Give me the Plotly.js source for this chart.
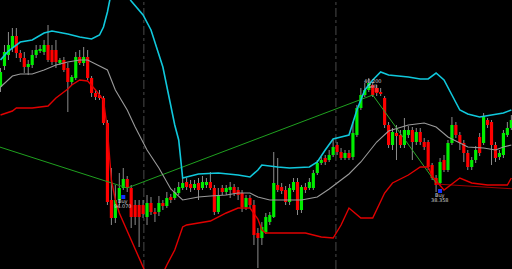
<!DOCTYPE html>
<html><head><meta charset="utf-8">
<script src="https://cdn.plot.ly/plotly-3.0.1.min.js"></script>
<style>html,body{margin:0;padding:0;background:#000;}#chart{width:512px;height:269px;}</style>
</head><body><div id="chart"></div>
<script>
// OHLC per bar (bar index = position in array)
const open  = [183,204,215,222,234,217,212,203,205,215,219,218,225,220,220,207,210,202,188,192,213,207,213,192,177,175,172,147,70,52,70,82,91,82,65,65,65,53,67,58,58,67,64,73,72,77,82,88,86,82,87,82,85,88,82,58,82,78,80,83,80,77,63,72,65,37,32,38,48,53,85,83,80,68,80,88,60,83,82,82,97,107,112,110,115,125,118,112,117,113,135,162,175,180,185,182,178,172,145,125,137,135,125,135,140,128,138,128,128,105,92,87,110,100,127,145,135,127,117,103,110,133,127,150,148,125,113,115,135,142];
const close = [198,218,225,234,217,212,203,206,215,220,221,225,210,208,208,210,200,188,193,213,207,213,192,177,173,172,147,68,52,70,82,91,82,53,53,53,56,67,58,56,67,64,72,70,78,83,87,83,82,86,80,88,88,82,58,75,78,82,83,77,75,63,72,65,35,32,43,53,55,87,80,79,68,82,88,60,83,80,88,97,107,110,108,115,123,118,112,117,112,137,162,175,180,187,175,177,176,145,125,138,134,125,140,140,128,138,128,123,103,92,85,108,100,127,145,135,127,117,103,110,120,117,153,145,125,112,117,137,142,150];
const high  = [202,225,238,242,242,220,218,210,220,225,225,230,245,225,230,212,213,207,195,218,220,223,220,194,180,180,174,150,102,85,97,102,94,85,70,70,70,75,73,62,74,70,78,76,82,88,92,92,90,90,92,94,92,98,85,82,85,85,88,86,83,80,75,75,70,42,48,57,58,118,112,87,84,86,92,92,85,87,92,100,110,113,115,120,130,128,122,120,120,148,165,182,187,192,188,185,182,174,148,142,145,140,152,144,143,142,142,132,130,107,95,112,115,130,153,148,138,130,120,113,124,137,157,152,150,128,120,140,148,155];
const low   = [178,200,210,218,212,208,197,195,202,212,217,215,208,205,202,205,198,158,185,190,205,204,190,173,170,170,145,65,45,47,65,80,78,42,45,23,52,45,55,48,54,60,62,67,70,75,80,80,78,80,70,80,82,80,55,56,75,75,72,74,70,58,60,62,25,2,25,36,45,52,78,76,65,65,78,55,57,77,80,80,95,105,105,108,113,115,110,110,110,110,133,160,173,178,173,174,174,142,122,120,110,122,122,132,110,125,125,120,100,90,78,85,98,98,125,132,120,108,100,100,107,114,125,142,105,108,110,112,133,140];

// Bollinger bands read at selected bars
const upperBar = [0,2,5,8,11,13,17,20,23,25,26,27,28,30,32,33,36,38,41,43,44,45,46,50,55,60,63,65,66,70,73,78,80,82,84,86,88,90,92,94,96,98,103,106,108,110,112,114,116,118,121,124,127,129];
const upperVal = [210,219,228,230,237,239,236,233,231,235,243,258,278,300,275,269,255,240,203,165,145,130,92,96,97,95,93,100,105,103,102,103,108,120,131,133,135,160,180,190,198,195,193,191,191,197,190,175,160,156,153,155,157,160];
const midBar = [0,3,5,8,11,14,17,20,22,24,27,29,32,34,37,40,43,46,50,53,57,60,63,65,68,72,76,80,83,86,88,91,95,98,103,107,110,113,118,122,125,127,129];
const midVal = [183,194,196,196,200,205,208,210,210,206,200,180,160,143,120,102,81,70,73,74,75,77,77,73,70,70,70,73,81,90,96,108,128,139,145,147,143,133,123,122,120,123,125];
const lowerBar = [0,3,4,8,12,14,17,18,20,22,24,26,27,28,29,30,33,36,38,40,42,44,46,47,50,53,57,60,63,65,66,67,72,77,81,84,86,88,91,94,97,99,103,106,108,109,112,116,119,123,128,129];
const lowerVal = [155,159,162,162,164,172,181,185,190,189,180,170,140,90,70,57,30,2,-15,-12,5,20,43,45,47,49,57,62,62,51,40,37,37,37,33,32,45,62,52,52,77,87,95,103,103,94,80,92,87,85,85,92];

// Trend lines (bar, price)
const trendA_bar = [-1,32],  trendA_val = [124,82];
const trendB_bar = [32,94],  trendB_val = [82,175];
const trendC_bar = [94,110], trendC_val = [175,87];
const trendD_bar = [110,130],trendD_val = [86,81];

// Signals
const buyBar = [31,111], buyVal = [73,79];
const sellBar = [95], sellVal = [180];
const labels = [
  {bar:31, val:69, text:"Buy"}, {bar:31, val:64, text:"94.070"},
  {bar:94, val:189, text:"40.200"}, {bar:94, val:184, text:"Sell"},
  {bar:111, val:75, text:"Buy"}, {bar:111, val:70, text:"38.358"}
];
const separators = [36.2, 84.7];

const n = open.length;
const bars = [...Array(n).keys()];
const wx = [], wy = [];
const bodyBase = [], bodyH = [], bodyCol = [];
for (let i = 0; i < n; i++) {
  const top = Math.max(open[i], close[i]), bot = Math.min(open[i], close[i]);
  wx.push(i, i, null, i, i, null);
  wy.push(high[i], top, null, bot, low[i], null);
  bodyBase.push(bot);
  bodyH.push(Math.max(top - bot, 1.5));
  bodyCol.push(close[i] >= open[i] ? '#00ee00' : '#ff0000');
}

const traces = [
  {type:'scatter', mode:'lines', x:wx, y:wy, line:{color:'#8c8c8c', width:1}, hoverinfo:'skip'},
  {type:'bar', x:bars, y:bodyH, base:bodyBase, width:0.8, marker:{color:bodyCol, line:{width:0}}, hoverinfo:'skip'},
  {type:'scatter', mode:'lines', x:trendA_bar, y:trendA_val, line:{color:'#1fa01f', width:1}},
  {type:'scatter', mode:'lines', x:trendB_bar, y:trendB_val, line:{color:'#1fa01f', width:1}},
  {type:'scatter', mode:'lines', x:trendC_bar, y:trendC_val, line:{color:'#2aa82a', width:1}},
  {type:'scatter', mode:'lines', x:trendD_bar, y:trendD_val, line:{color:'#a00000', width:1}},
  {type:'scatter', mode:'lines', x:midBar, y:midVal, line:{color:'#9a9a9a', width:1.1}},
  {type:'scatter', mode:'lines', x:upperBar, y:upperVal, line:{color:'#10c8dc', width:1.6}},
  {type:'scatter', mode:'lines', x:lowerBar, y:lowerVal, line:{color:'#e00000', width:1.4}},
  {type:'scatter', mode:'markers', x:buyBar, y:buyVal, marker:{color:'#1030ff', size:4, symbol:'square'}},
  {type:'scatter', mode:'markers', x:sellBar, y:sellVal, marker:{color:'#ff2020', size:4, symbol:'square'}}
];

const layout = {
  width:512, height:269,
  margin:{l:0, r:0, t:0, b:0, pad:0},
  paper_bgcolor:'#000', plot_bgcolor:'#000',
  showlegend:false, barmode:'overlay',
  xaxis:{range:[-0.13, 129.17], showgrid:false, zeroline:false, showticklabels:false, showline:false, fixedrange:true},
  yaxis:{range:[1, 270], showgrid:false, zeroline:false, showticklabels:false, showline:false, fixedrange:true},
  shapes: separators.map(s => ({type:'line', xref:'x', yref:'paper', x0:s, x1:s, y0:0, y1:1,
    line:{color:'#4a4a4a', width:1, dash:'dashdot'}, layer:'below'})),
  annotations: labels.map(l => ({x:l.bar, y:l.val, xref:'x', yref:'y', text:l.text, showarrow:false,
    font:{family:'DejaVu Sans', size:5, color:'#d0d0d0'}}))
};

Plotly.newPlot('chart', traces, layout, {staticPlot:true, displayModeBar:false});
</script></body></html>
